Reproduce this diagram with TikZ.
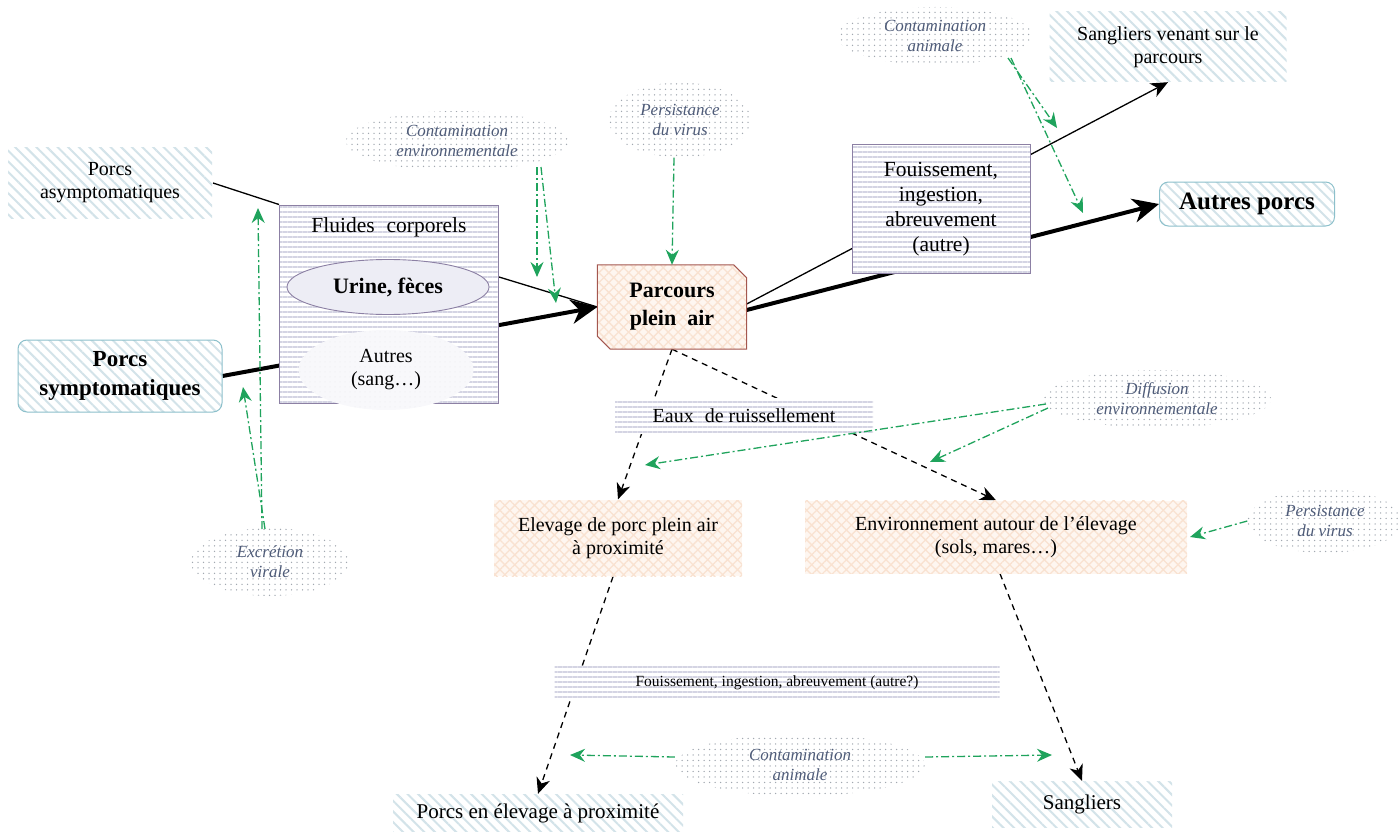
\documentclass[tikz,border=0pt]{standalone}
\usepackage{fontspec}
\setmainfont{Liberation Serif}
\usetikzlibrary{arrows.meta,patterns.meta,shapes.geometric,backgrounds,calc}

\definecolor{hatchblue}{HTML}{D3E3E9}
\definecolor{tealedge}{HTML}{8CC0CB}
\definecolor{stripe}{HTML}{D4D4E3}
\definecolor{boxedge}{HTML}{8C80A4}
\definecolor{peachfill}{HTML}{FEF6F0}
\definecolor{peachline}{HTML}{F9E2D1}
\definecolor{parcedge}{HTML}{A4574F}
\definecolor{flowgreen}{HTML}{1FA35C}
\definecolor{dotgrey}{HTML}{A2A8B0}
\definecolor{cloudtext}{HTML}{4E5B78}
\definecolor{ellfill}{HTML}{EDEDF5}

\begin{document}
\begin{tikzpicture}[x=1pt,y=-1pt,
  every node/.style={align=center, inner sep=0pt},
  txt/.style={font=\fontsize{20}{23}\selectfont},
  bigtxt/.style={font=\fontsize{21.5}{25}\selectfont},
  smalltxt/.style={font=\fontsize{15.5}{19}\selectfont},
  boldtxt/.style={font=\fontsize{22}{28}\selectfont\bfseries},
  cloudtxt/.style={font=\fontsize{17}{20}\selectfont\itshape, text=cloudtext},
  hatchbox/.style={rectangle, preaction={fill=white},
    pattern={Lines[angle=-45,distance=7.5pt,line width=2pt]}, pattern color=hatchblue},
  roundbox/.style={hatchbox, rounded corners=9pt, draw=tealedge, line width=1pt},
  stripefill/.style={rectangle, preaction={fill=white},
    pattern={Lines[angle=0,distance=5pt,line width=1.5pt]}, pattern color=stripe},
  stripebox/.style={stripefill, draw=boxedge, line width=1pt},
  peachpattern/.style={preaction={fill=peachfill},
    pattern={Hatch[angle=45,distance=7pt,line width=1.3pt]}, pattern color=peachline},
  peachbox/.style={rectangle, peachpattern},
  cloudblob/.style={ellipse, pattern={Dots[distance=5.5pt,radius=0.75pt]},
    pattern color=dotgrey, cloudtxt},
  thickflow/.style={line width=4pt, -{Stealth[length=26pt,width=24pt,inset=8pt]}},
  thinflow/.style={line width=1.3pt},
  thinarrow/.style={thinflow, -{Stealth[length=17pt,width=15pt,inset=5pt]}},
  dashflow/.style={line width=1.3pt, dash pattern=on 6pt off 5pt,
    -{Stealth[length=16pt,width=14pt,inset=5pt]}},
  greenflow/.style={draw=flowgreen, line width=1.3pt,
    dash pattern=on 8pt off 3pt on 2pt off 3pt,
    -{Stealth[length=15pt,width=13pt,inset=5pt]}}
]
\useasboundingbox (0,0) rectangle (1400,832);

% ---- sources on the left
\node[hatchbox, minimum width=204pt, minimum height=70pt, txt] (asym) at (110,183)
  {Porcs\\asymptomatiques};
\node[roundbox, minimum width=204pt, minimum height=72pt, font=\fontsize{23}{29}\selectfont\bfseries]
  (symp) at (120,376) {Porcs\\symptomatiques};

% ---- body fluids
\node[stripebox, minimum width=219pt, minimum height=198pt] (fluides) at (389,304) {};
\node[bigtxt] (fluidtitle) at (389,227) {Fluides\hspace{0.3em} corporels};
\node[ellipse, draw=boxedge, line width=0.9pt, fill=ellfill, minimum width=202pt,
  minimum height=55pt, boldtxt] (urine) at (388,287) {Urine, fèces};
\node[ellipse, preaction={fill=white!60!ellfill}, pattern={Dots[distance=5pt,radius=0.5pt]},
  pattern color=white!75!dotgrey, minimum width=175pt, minimum height=80pt, txt]
  (autres) at (386,370) {Autres\\(sang…)};

% ---- outdoor run
\node[minimum width=149pt, minimum height=84pt, boldtxt] (parc) at (672,307)
  {Parcours\\plein\hspace{0.25em} air};

% ---- onward transmission
\node[stripebox, minimum width=178pt, minimum height=128pt, bigtxt] (fouis) at (941,209)
  {Fouissement,\\ingestion,\\abreuvement\\(autre)};
\node[hatchbox, minimum width=237pt, minimum height=70pt, txt] (sangv) at (1168,47)
  {Sangliers venant sur le\\parcours};
\node[roundbox, minimum width=175pt, minimum height=44pt, font=\fontsize{25}{28}\selectfont\bfseries]
  (autresp) at (1247,204) {Autres porcs};

\node[stripefill, minimum width=258pt, minimum height=36pt, txt] (eaux) at (744,416)
  {Eaux\hspace{0.3em} de ruissellement};
\node[peachbox, minimum width=248pt, minimum height=76pt, txt] (elev) at (618,538)
  {Elevage de porc plein air\\à proximité};
\node[peachbox, minimum width=382pt, minimum height=73pt, txt] (env) at (996,537)
  {Environnement autour de l’élevage\\(sols, mares…)};
\node[stripefill, minimum width=445pt, minimum height=35pt, smalltxt] (fouis2) at (777,683)
  {Fouissement, ingestion, abreuvement (autre?)};
\node[hatchbox, minimum width=290pt, minimum height=38pt, font=\fontsize{21}{24}\selectfont]
  (porcsel) at (538,813) {Porcs en élevage à proximité};
\node[hatchbox, minimum width=180pt, minimum height=46pt, font=\fontsize{21}{24}\selectfont]
  (sangl) at (1082,804) {Sangliers};

% ---- risk factors (dotted clouds)
\node[cloudblob, minimum width=222pt, minimum height=60pt] (c1) at (457,141)
  {Contamination\\environnementale};
\node[cloudblob, minimum width=142pt, minimum height=75pt] (c2) at (680,120)
  {Persistance\\du virus};
\node[cloudblob, minimum width=196pt, minimum height=58pt] (c3) at (935,36)
  {Contamination\\animale};
\node[cloudblob, minimum width=228pt, minimum height=58pt] (c4) at (1157,399)
  {Diffusion\\environnementale};
\node[cloudblob, minimum width=155pt, minimum height=64pt] (c5) at (1325,521)
  {Persistance\\du virus};
\node[cloudblob, minimum width=158pt, minimum height=68pt] (c6) at (270,562)
  {Excrétion\\virale};
\node[cloudblob, minimum width=250pt, minimum height=62pt] (c7) at (800,765)
  {Contamination\\animale};

% ---- black connectors, behind the boxes
\begin{scope}[on background layer]
  \draw[thinflow] (asym.east) -- (fluides.north west);
  \draw[thinflow] ([yshift=27pt]fluides.east) -- (parc.west);
  \draw[thickflow] (symp.east) -- (parc.west);
  \draw[thinarrow] ([yshift=3pt]parc.east) -- (sangv.south);
  \draw[thickflow] ([yshift=-3pt]parc.east) -- (autresp.west);
  \draw[dashflow] (parc.south) -- (elev.north);
  \draw[dashflow] (parc.south) -- (env.north);
  \draw[dashflow] ([xshift=-5pt]elev.south) -- (porcsel.north);
  \draw[dashflow] ([xshift=4pt]env.south) -- (sangl.north);
  % chamfered outline of the outdoor run
  \draw[parcedge, line width=1pt, peachpattern]
    (parc.north west) -- ([xshift=-13pt]parc.north east) -- ([yshift=-13pt]parc.north east)
    -- (parc.south east) -- ([xshift=13pt]parc.south west) -- ([yshift=13pt]parc.south west)
    -- cycle;
\end{scope}

% ---- green influence arrows
\coordinate (c1s1) at (537,167);
\coordinate (c1s2) at (541,167);
\coordinate (c1t1) at (537,277);
\coordinate (c1t2) at (556,303);
\coordinate (c3s1) at (1008,58);
\coordinate (c3s2) at (1011,58);
\coordinate (c3t1) at (1057,128);
\coordinate (c3t2) at (1083,213);
\coordinate (c4s1) at (1046,404);
\coordinate (c4s2) at (1048,408);
\coordinate (c4t1) at (645,465);
\coordinate (c4t2) at (930,462);
\coordinate (c5t) at (1190,537);
\coordinate (c6s1) at (262,529);
\coordinate (c6s2) at (265,529);
\coordinate (c6t1) at (258,208);
\coordinate (c6t2) at (243,387);
\coordinate (c7t1) at (570,755);
\coordinate (c7t2) at (1052,755);

\draw[greenflow] (c1s1) -- (c1t1);
\draw[greenflow] (c1s2) -- (c1t2);
\draw[greenflow] ([xshift=-6pt]c2.south) -- (parc.north);
\draw[greenflow] (c3s1) -- (c3t1);
\draw[greenflow] (c3s2) -- (c3t2);
\draw[greenflow] (c4s1) -- (c4t1);
\draw[greenflow] (c4s2) -- (c4t2);
\draw[greenflow] (c5.west) -- (c5t);
\draw[greenflow] (c6s1) -- (c6t1);
\draw[greenflow] (c6s2) -- (c6t2);
\draw[greenflow] ([yshift=8pt]c7.west) -- (c7t1);
\draw[greenflow] ([yshift=8pt]c7.east) -- (c7t2);
\end{tikzpicture}
\end{document}
